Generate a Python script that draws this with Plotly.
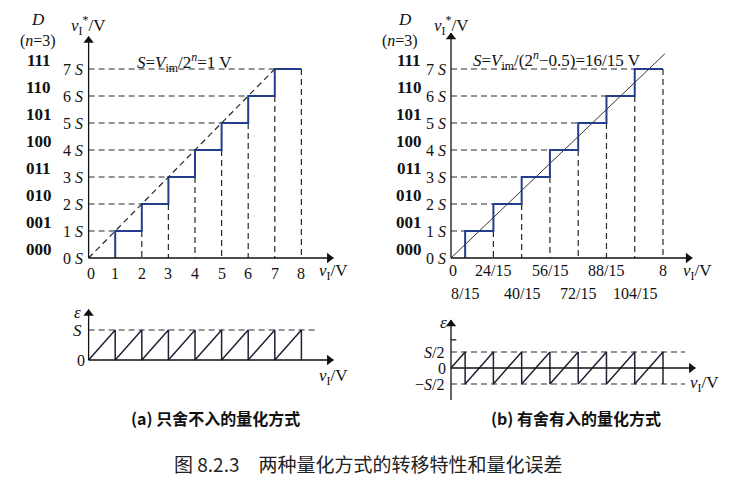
import plotly.graph_objects as go

# ---------------- data ----------------
levels = [0, 1, 2, 3, 4, 5, 6, 7]
codes = ["000", "001", "010", "011", "100", "101", "110", "111"]
level_labels = ["0 <i>S</i>", "1 <i>S</i>", "2 <i>S</i>", "3 <i>S</i>",
                "4 <i>S</i>", "5 <i>S</i>", "6 <i>S</i>", "7 <i>S</i>"]

# (a) truncation quantizer, S = 1 V
a_S = 1.0
a_thresholds = [1, 2, 3, 4, 5, 6, 7]          # step positions (V)
a_vmax = 8
a_tick_vals = [0, 1, 2, 3, 4, 5, 6, 7, 8]
a_tick_text = ["0", "1", "2", "3", "4", "5", "6", "7", "8"]

# (b) rounding quantizer, S = 16/15 V
b_S = 16 / 15
b_thresholds = [8/15, 24/15, 40/15, 56/15, 72/15, 88/15, 104/15]
b_vmax = 8
b_diag_end = 8.07
b_tick_top_vals = [0, 24/15, 56/15, 88/15, 8]
b_tick_top_text = ["0", "24/15", "56/15", "88/15", "8"]
b_tick_bot_vals = [8/15, 40/15, 72/15, 104/15]
b_tick_bot_text = ["8/15", "40/15", "72/15", "104/15"]

W, H = 731, 478
SERIF = "Liberation Serif, Times New Roman, serif"
CJK = "Noto Sans CJK SC"
BLUE = "#233e8c"
DARK = "#1d2333"
DASH = dict(color="#2a2a2a", width=1.2, dash="6px,4px")

fig = go.Figure()
SCALE = {}


def setup(idx, px0, px1, ox, sx, py_top, py_bot, oy, sy):
    xa = dict(domain=[px0 / W, px1 / W], range=[(px0 - ox) / sx, (px1 - ox) / sx],
              visible=False, fixedrange=True)
    ya = dict(domain=[1 - py_bot / H, 1 - py_top / H], range=[(oy - py_bot) / sy, (oy - py_top) / sy],
              visible=False, fixedrange=True)
    sfx = "" if idx == 1 else str(idx)
    if idx != 1:
        xa["anchor"] = "y" + sfx
        ya["anchor"] = "x" + sfx
    fig.update_layout(**{"xaxis" + sfx: xa, "yaxis" + sfx: ya})
    SCALE[("x" + sfx, "y" + sfx)] = (sx, sy)
    return "x" + sfx, "y" + sfx


ax1 = setup(1, 15, 350, 88.6, 26.6, 8, 290, 258, 27.0)     # (a) transfer
ax2 = setup(2, 385, 728, 451, 26.5, 8, 302, 258, 27.0)     # (b) transfer
ax3 = setup(3, 15, 350, 88.6, 26.6, 298, 395, 360, 30.0)   # (a) error
ax4 = setup(4, 385, 728, 451, 26.5, 308, 405, 368, 32.0)   # (b) error

anns = []


def line(ax, xs, ys, style):
    fig.add_trace(go.Scatter(x=xs, y=ys, mode="lines", line=style, xaxis=ax[0], yaxis=ax[1],
                             hoverinfo="skip", showlegend=False))


def arrow(ax, x0, y0, x1, y1):
    sx, sy = SCALE[ax]
    line(ax, [x0, x1], [y0, y1], dict(color="#111", width=1.3))
    if y0 == y1:
        mx, my, sym = x1 - 4 / sx, y1, "triangle-right"
    else:
        mx, my, sym = x1, y1 - 4 / sy, "triangle-up"
    fig.add_trace(go.Scatter(x=[mx], y=[my], mode="markers", xaxis=ax[0], yaxis=ax[1],
                             marker=dict(symbol=sym, size=9, color="#111", line=dict(width=0)),
                             cliponaxis=False, hoverinfo="skip", showlegend=False))


def text(ax, x, y, s, size=16, xanchor="center", yanchor="middle", family=SERIF, color="#111"):
    anns.append(dict(x=x, y=y, xref=ax[0], yref=ax[1], text=s, showarrow=False,
                     xanchor=xanchor, yanchor=yanchor, font=dict(family=family, size=size, color=color)))


def ptext(px, py, s, size=16, family=SERIF, color="#111"):
    anns.append(dict(x=px / W, y=1 - py / H, xref="paper", yref="paper", text=s, showarrow=False,
                     xanchor="center", yanchor="middle", font=dict(family=family, size=size, color=color)))


def transfer(ax, thresholds, vmax, tick_label_x, code_x, d_x, n_x):
    n = len(thresholds)
    # dashed guides
    for k in range(1, n + 1):
        line(ax, [0, thresholds[k - 1]], [levels[k], levels[k]], DASH)
    for k in range(1, n):
        line(ax, [thresholds[k], thresholds[k]], [levels[k], 0], DASH)
    line(ax, [vmax, vmax], [levels[n], 0], DASH)
    # staircase
    xs, ys = [], []
    for k in range(n):
        xs += [thresholds[k], thresholds[k]]
        ys += [levels[k], levels[k + 1]]
    xs.append(vmax)
    ys.append(levels[n])
    line(ax, xs, ys, dict(color=BLUE, width=2))
    # labels on the left
    for k, lab in zip(levels, level_labels):
        text(ax, tick_label_x, k, lab, size=16, xanchor="right")
    for k, c in zip(levels, codes):
        text(ax, code_x, k + 0.3, "<b>" + c + "</b>", size=17)
    text(ax, d_x, 8.85, "<i>D</i>", size=17)
    text(ax, n_x, 8.05, "(<i>n</i>=3)", size=16)
    text(ax, 0, 8.6, "<i>v</i><sub>I</sub><sup>*</sup>/V", size=17)


# ---------- (a) transfer ----------
transfer(ax1, a_thresholds, a_vmax, -0.13, -1.88, -1.9, -1.9)
line(ax1, [0, a_thresholds[-1]], [0, levels[-1]], DASH)
arrow(ax1, 0, 0, 9.2, 0)
arrow(ax1, 0, 0, 0, 8.2)
for v, t in zip(a_tick_vals, a_tick_text):
    text(ax1, v + (0.08 if v == 0 else 0), -0.56, t, size=16)
text(ax1, 9.2, -0.5, "<i>v</i><sub>I</sub>/V", size=17)
text(ax1, 3.6, 7.25, "<i>S</i>=<i>V</i><sub>im</sub>/2<sup><i>n</i></sup>=1 V", size=17)

# ---------- (b) transfer ----------
transfer(ax2, b_thresholds, b_vmax, -0.11, -1.57, -1.74, -1.92)
line(ax2, [0, b_diag_end], [0, b_diag_end / b_S], dict(color="#333", width=1))
arrow(ax2, 0, 0, 9.1, 0)
arrow(ax2, 0, 0, 0, 8.33)
for v, t in zip(b_tick_top_vals, b_tick_top_text):
    text(ax2, v + (0.08 if v == 0 else 0), -0.45, t, size=16)
for v, t in zip(b_tick_bot_vals, b_tick_bot_text):
    text(ax2, v, -1.3, t, size=16)
text(ax2, 9.3, -0.52, "<i>v</i><sub>I</sub>/V", size=17)
text(ax2, 3.99, 7.3, "<i>S</i>=<i>V</i><sub>im</sub>/(2<sup><i>n</i></sup>\u22120.5)=16/15 V", size=17)

# ---------- (a) error ----------
ex, ey = [0], [0]
for k in range(1, a_vmax + 1):
    ex += [k, k]
    ey += [a_S, 0]
line(ax3, [0, 8.6], [a_S, a_S], DASH)
line(ax3, ex, ey, dict(color=DARK, width=1.5))
arrow(ax3, 0, 0, 9.2, 0)
arrow(ax3, 0, 0, 0, 1.68)
text(ax3, -0.4, 1.57, "<i>\u03b5</i>", size=17)
text(ax3, -0.4, 1.0, "<i>S</i>", size=17)
text(ax3, -0.3, 0, "0", size=16)
text(ax3, 9.2, -0.57, "<i>v</i><sub>I</sub>/V", size=17)

# ---------- (b) error ----------
bx, by = [0], [0]
for t in b_thresholds + [b_vmax]:
    bx += [t, t]
    by += [0.5, -0.5]
line(ax4, [0, 8.83], [0.5, 0.5], DASH)
line(ax4, [0, 8.83], [-0.5, -0.5], DASH)
line(ax4, bx, by, dict(color=DARK, width=1.5))
arrow(ax4, 0, 0, 9.22, 0)
arrow(ax4, 0, -1.0, 0, 1.5)
line(ax4, [0, 0.2], [0.88, 0.88], dict(color="#111", width=1.2))
text(ax4, -0.3, 1.43, "<i>\u03b5</i>", size=17)
text(ax4, -0.17, 0.5, "<i>S</i>/2", size=16, xanchor="right")
text(ax4, -0.34, 0, "0", size=16)
text(ax4, -0.17, -0.5, "\u2212<i>S</i>/2", size=16, xanchor="right")
text(ax4, 9.55, -0.5, "<i>v</i><sub>I</sub>/V", size=17)

# ---------- captions ----------
ptext(215, 418, "<b>(a) 只舍不入的量化方式</b>", size=16, family=CJK)
ptext(576, 418, "<b>(b) 有舍有入的量化方式</b>", size=16, family=CJK)
ptext(368, 463, "图 8.2.3　两种量化方式的转移特性和量化误差", size=19, family=CJK, color="#222")

fig.update_layout(width=W, height=H, margin=dict(l=0, r=0, t=0, b=0),
                  paper_bgcolor="white", plot_bgcolor="white", annotations=anns,
                  showlegend=False)
fig.write_html("out.html")
